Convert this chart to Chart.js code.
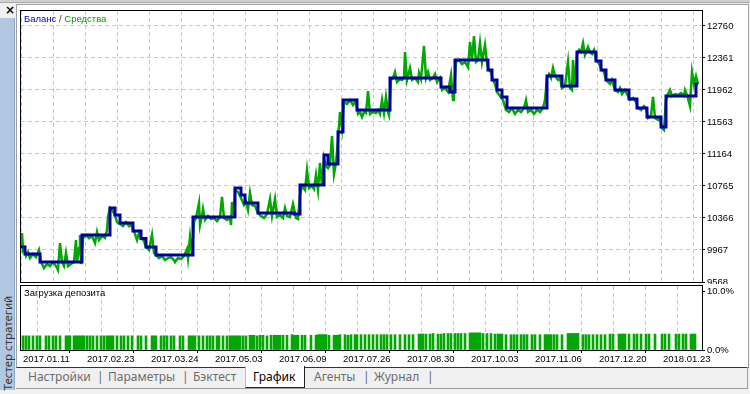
<!DOCTYPE html>
<html>
<head>
<meta charset="utf-8">
<script src="https://cdn.jsdelivr.net/npm/chart.js@4.4.0/dist/chart.umd.min.js"></script>
<style>
html, body { margin: 0; padding: 0; }
body { width: 750px; height: 394px; background: #f0f0f0; position: relative; overflow: hidden; font-family: 'Liberation Sans', Arial, sans-serif; }
#topbar { position: absolute; left: 0; top: 0; width: 750px; height: 2px; background: #d0d0d0; border-bottom: 1px solid #a8a8a8; }
#close { position: absolute; left: 5px; top: 3px; font: bold 12px 'DejaVu Sans', sans-serif; color: #000; }
#side { position: absolute; left: 0; top: 18px; width: 14px; height: 372px; background: #b1c7e2; border-right: 1px solid #8fa9c8; }
#sideText { position: absolute; left: -39px; top: 337px; width: 92px; height: 15px; line-height: 15px; text-align: center; transform: rotate(-90deg); font: 11.5px 'Noto Sans', sans-serif; color: #333; white-space: nowrap; }
#panel { position: absolute; left: 16px; top: 4px; width: 731px; height: 362px; background: #fff; border: 1px solid #a0a0a0; border-bottom-color: #333; }
#tabs { position: absolute; left: 16px; top: 367px; width: 731px; height: 21px; border-right: 1px solid #a0a0a0; border-bottom: 1px solid #a0a0a0; }
.tab { position: absolute; top: 368px; font: 12px 'Noto Sans', sans-serif; color: #6d6d6d; line-height: 18px; white-space: nowrap; }
#activeTab { position: absolute; left: 245px; top: 366px; width: 58px; height: 21px; background: #fff; border-left: 1px solid #c0c0c0; border-right: 1px solid #222; border-bottom: 1px solid #222; }
canvas { position: absolute; }
#balanceChart { left: 20px; top: 10px; }
#loadChart { left: 20px; top: 284px; }
.cap { position: absolute; font: 9.5px 'Liberation Sans', Arial, sans-serif; white-space: nowrap; }
</style>
</head>
<body>
<div id="topbar"></div>
<div id="close">×</div>
<div id="side"></div>
<div id="sideText">Тестер стратегий</div>
<div id="panel"></div>
<div id="tabs"></div>
<div id="activeTab"></div>
<div class="tab" style="left:28px">Настройки</div>
<div class="tab" style="left:97px">|</div>
<div class="tab" style="left:108px">Параметры</div>
<div class="tab" style="left:182px">|</div>
<div class="tab" style="left:193px">Бэктест</div>
<div class="tab" style="left:253px;color:#000">График</div>
<div class="tab" style="left:314px">Агенты</div>
<div class="tab" style="left:363px">|</div>
<div class="tab" style="left:374px">Журнал</div>
<div class="tab" style="left:427px">|</div>

<canvas id="balanceChart" width="730" height="274"></canvas>
<canvas id="loadChart" width="730" height="80"></canvas>

<div class="cap" style="left:24px;top:13px"><span style="color:#0000c0">Баланс</span> <span style="color:#502020">/</span> <span style="color:#00a000">Средства</span></div>
<div class="cap" style="left:24px;top:287px;color:#000">Загрузка депозита</div>

<script>
// баланс: [номер сделки, значение], ступеньками
const balancePoints = [
    [0, 10004], [4, 9917], [19, 9817], [61, 10154], [89, 10490], [94, 10403], [99, 10304],
    [112, 10204], [120, 10110], [125, 10004], [135, 9904], [172, 10378], [214, 10740],
    [220, 10653], [224, 10553], [237, 10428], [273, 10416], [279, 10777], [303, 11151],
    [307, 11039], [317, 11438], [322, 11837], [336, 11713], [369, 12112], [420, 11999],
    [429, 11937], [434, 12336], [467, 12211], [471, 12087], [476, 11962], [481, 11875],
    [486, 11737], [526, 12137], [541, 12012], [556, 12436], [575, 12324], [580, 12211],
    [585, 12087], [594, 11962], [608, 11850], [616, 11737], [626, 11625], [640, 11501],
    [645, 11887], [675, 12037], [677, 12037]
];

// средства
const equityPoints = [
    [0, 10004], [1, 10179], [2, 9967], [3, 9992], [5, 9892], [7, 9942], [9, 9867], [12, 9917],
    [15, 9879], [18, 9967], [20, 9817], [23, 9742], [26, 9792], [29, 9767], [32, 9817], [35, 9767],
    [37, 9717], [39, 10054], [41, 9817], [43, 9767], [45, 9929], [47, 9767], [50, 9792], [53, 9817],
    [55, 10091], [56, 9817], [58, 9992], [59, 10154], [60, 9792], [62, 10116], [65, 10154], [68, 10116],
    [71, 10141], [74, 10054], [76, 10191], [78, 10091], [81, 10141], [84, 10116], [86, 10216], [87, 10378],
    [89, 10490], [91, 10466], [94, 10403], [96, 10316], [99, 10291], [102, 10266], [105, 10316], [108, 10266],
    [110, 10291], [113, 10204], [116, 10091], [118, 10179], [120, 10116], [123, 10079], [125, 10004], [128, 9967],
    [131, 10154], [133, 9929], [135, 9904], [138, 9867], [141, 9892], [144, 9842], [147, 9867], [150, 9879],
    [153, 9842], [154, 9817], [157, 9867], [160, 9854], [163, 9892], [166, 9979], [167, 9867], [169, 10129],
    [171, 9904], [173, 10316], [175, 10366], [178, 10553], [179, 10279], [181, 10391], [182, 10478], [184, 10341],
    [187, 10391], [190, 10353], [193, 10366], [196, 10328], [199, 10378], [201, 10628], [203, 10366], [206, 10341],
    [209, 10366], [210, 10279], [211, 10565], [213, 10403], [214, 10715], [217, 10690], [220, 10615], [223, 10528],
    [225, 10565], [227, 10466], [229, 10678], [231, 10528], [234, 10515], [237, 10428], [240, 10391], [243, 10366],
    [246, 10416], [249, 10603], [251, 10391], [254, 10603], [256, 10378], [259, 10403], [262, 10366], [264, 10490],
    [266, 10391], [269, 10378], [272, 10540], [275, 10366], [277, 10353], [279, 10653], [281, 10765], [284, 10715],
    [286, 10964], [288, 10740], [291, 10765], [293, 10727], [295, 10902], [297, 10715], [299, 11052], [301, 10765],
    [303, 11114], [305, 11014], [307, 10989], [309, 11027], [311, 11388], [313, 10914], [315, 11052], [317, 11338],
    [319, 11688], [321, 11488], [323, 11812], [326, 11787], [329, 11837], [332, 11775], [335, 11825], [337, 11663],
    [339, 11688], [341, 11625], [343, 11688], [345, 11675], [347, 11949], [349, 11663], [352, 11688], [355, 11675],
    [357, 11713], [359, 11663], [361, 11837], [363, 11675], [365, 11875], [367, 11688], [368, 11650], [370, 12087],
    [372, 12112], [374, 12186], [376, 12062], [379, 12099], [381, 12087], [383, 12112], [384, 12436], [386, 12087],
    [389, 12236], [391, 12087], [394, 12112], [397, 12062], [398, 12174], [400, 12099], [403, 12511], [405, 12112],
    [407, 12186], [409, 12087], [412, 12112], [414, 12161], [416, 12062], [419, 12112], [421, 11962], [424, 11987],
    [427, 11937], [430, 12149], [432, 11837], [433, 11937], [435, 12311], [438, 12336], [441, 12286], [444, 12311],
    [447, 12249], [449, 12560], [451, 12336], [453, 12635], [455, 12311], [457, 12336], [459, 12548], [461, 12311],
    [464, 12523], [466, 12299], [468, 12211], [470, 12186], [472, 12087], [474, 12037], [476, 11937], [479, 11887],
    [482, 11837], [485, 11713], [488, 11688], [491, 11737], [494, 11663], [497, 11713], [500, 11688], [503, 11737],
    [505, 11837], [507, 11688], [510, 11713], [513, 11663], [516, 11713], [519, 11688], [522, 11737], [524, 11837],
    [526, 12112], [528, 12161], [530, 12112], [532, 12236], [534, 12136], [537, 12087], [539, 12112], [541, 11987],
    [544, 12012], [547, 12311], [549, 11987], [551, 11962], [552, 12336], [554, 12012], [556, 12411], [558, 12461],
    [560, 12436], [562, 12548], [564, 12398], [567, 12498], [569, 12436], [571, 12411], [573, 12461], [575, 12336],
    [577, 12311], [579, 12261], [581, 12211], [583, 12186], [585, 12087], [587, 12062], [589, 12037], [591, 12087],
    [594, 11962], [597, 11937], [599, 11987], [601, 11912], [604, 11962], [607, 11887], [609, 11837], [612, 11862],
    [615, 11812], [617, 11737], [620, 11713], [623, 11762], [625, 11737], [627, 11613], [630, 11638], [632, 11875],
    [634, 11613], [637, 11588], [639, 11613], [641, 11488], [643, 11463], [645, 11837], [647, 11912], [649, 11962],
    [651, 11887], [654, 11912], [657, 11900], [660, 11924], [663, 11887], [664, 11962], [666, 11900], [669, 11762],
    [671, 12186], [673, 12037], [675, 12136], [677, 12037]
];

// загрузка депозита, %
const loadDeals = [
    2, 5, 8, 12, 16, 19, 25, 28, 32, 35, 39, 45, 47, 49, 53, 55, 57, 59, 61, 63,
    66, 69, 72, 76, 80, 83, 86, 88, 90, 92, 96, 100, 103, 107, 111, 117, 120, 125, 131, 133,
    135, 140, 143, 146, 150, 153, 159, 162, 168, 170, 172, 174, 178, 182, 186, 189, 192, 196, 198, 202,
    206, 209, 211, 213, 215, 217, 219, 222, 225, 229, 231, 233, 236, 239, 242, 246, 250, 253, 255, 257,
    259, 262, 266, 271, 273, 275, 277, 281, 284, 290, 295, 297, 299, 301, 303, 305, 308, 313, 315, 317,
    319, 324, 327, 330, 334, 336, 340, 344, 348, 352, 356, 360, 363, 366, 370, 374, 379, 384, 388, 392,
    398, 400, 402, 405, 409, 412, 417, 420, 423, 427, 430, 434, 437, 440, 444, 449, 451, 453, 455, 457,
    459, 462, 466, 470, 474, 477, 479, 481, 485, 490, 493, 496, 500, 503, 506, 511, 514, 519, 524, 526,
    528, 530, 533, 536, 541, 547, 549, 551, 553, 555, 557, 562, 565, 568, 572, 576, 580, 584, 589, 592,
    598, 600, 602, 604, 608, 613, 616, 620, 625, 628, 634, 641, 644, 648, 655, 658, 662, 665, 670, 672, 674
];
const loadPercent = [
    2.4, 2.4, 2.4, 2.4, 2.4, 2.4, 2.4, 2.4, 2.4, 2.4, 2.4, 2.4, 2.4, 2.4, 2.4, 2.4, 2.4, 2.4, 2.4, 2.4,
    2.4, 2.4, 2.4, 2.4, 2.4, 2.4, 2.4, 2.4, 2.4, 2.4, 2.4, 2.4, 2.4, 2.4, 2.4, 2.4, 2.4, 2.4, 2.4, 2.4,
    2.4, 2.4, 2.4, 2.4, 2.4, 2.4, 2.4, 2.4, 2.4, 2.4, 2.4, 2.4, 2.4, 2.4, 2.4, 2.4, 2.4, 2.4, 2.4, 2.4,
    2.4, 2.4, 2.4, 2.4, 2.4, 2.4, 2.4, 2.4, 2.4, 2.5, 2.5, 2.5, 2.4, 2.5, 2.5, 2.4, 2.5, 2.5, 2.5, 2.5,
    2.5, 2.5, 2.5, 2.6, 2.5, 2.5, 2.5, 2.5, 2.5, 2.5, 2.5, 2.6, 2.6, 2.6, 2.6, 2.6, 2.5, 2.5, 2.5, 2.5,
    2.6, 2.6, 2.5, 2.6, 2.6, 2.6, 2.6, 2.6, 2.6, 2.6, 2.6, 2.6, 2.6, 2.6, 2.6, 2.6, 2.6, 2.6, 2.6, 2.6,
    2.7, 2.7, 2.7, 2.7, 2.7, 2.8, 2.7, 2.7, 2.8, 2.8, 2.8, 2.8, 2.8, 2.8, 2.8, 2.9, 2.9, 2.9, 2.9, 2.9,
    2.9, 2.8, 2.8, 2.8, 2.7, 2.7, 2.7, 2.7, 2.6, 2.6, 2.6, 2.6, 2.6, 2.6, 2.6, 2.6, 2.6, 2.6, 2.6, 2.6,
    2.6, 2.6, 2.6, 2.6, 2.6, 2.8, 2.8, 2.8, 2.8, 2.8, 2.8, 2.6, 2.6, 2.6, 2.6, 2.6, 2.6, 2.6, 2.7, 2.7,
    2.7, 2.7, 2.7, 2.7, 2.7, 2.7, 2.7, 2.7, 2.7, 2.7, 2.7, 2.7, 2.7, 2.7, 2.7, 2.7, 2.7, 2.7, 2.7, 2.7, 2.7
];

const balanceTicks = [9568, 9967, 10366, 10765, 11164, 11563, 11962, 12361, 12760];
const loadTicks = [0, 10];
const dateLabels = ['2017.01.11', '2017.02.23', '2017.03.24', '2017.05.03', '2017.06.09', '2017.07.26',
    '2017.08.30', '2017.10.03', '2017.11.06', '2017.12.20', '2018.01.23'];

const GRID = '#c8c8c8';
const TICK_FONT = { family: 'Liberation Sans', size: 9.5 };

// сетка по сделкам: линия каждые 32, подпись каждые 64
const dealTicks = [];
for (let d = 0; d <= 672; d += 32) dealTicks.push(d);

function dateForDeal(v) {
    if (v % 64 !== 0) return '';
    return dateLabels[v / 64] || '';
}

// не даём подписям сдвигать область графика
function fixScale(s, size) {
    if (s.isHorizontal()) s.height = size; else s.width = size;
    s.paddingTop = 0;
    s.paddingBottom = 0;
    s.paddingLeft = 0;
    s.paddingRight = 0;
}

const framePlugin = {
    id: 'frame',
    afterDraw(chart) {
        const { ctx, chartArea: a } = chart;
        ctx.save();
        ctx.strokeStyle = '#000';
        ctx.lineWidth = 1;
        ctx.strokeRect(a.left - 0.5, a.top - 0.5, a.right - a.left + 1, a.bottom - a.top + 1);
        ctx.restore();
    }
};

function initializeBalanceChart() {
    const ctx = document.getElementById('balanceChart').getContext('2d');
    new Chart(ctx, {
        type: 'line',
        data: {
            datasets: [{
                label: 'Баланс',
                data: balancePoints.map(p => ({ x: p[0], y: p[1] })),
                stepped: true,
                borderColor: '#0000a0',
                borderWidth: 3,
                pointRadius: 0
            }, {
                label: 'Средства',
                data: equityPoints.map(p => ({ x: p[0], y: p[1] })),
                borderColor: '#00a800',
                borderWidth: 2.5,
                pointRadius: 0,
                tension: 0
            }]
        },
        options: {
            responsive: false,
            animation: false,
            events: [],
            layout: { autoPadding: false, padding: { left: 1, top: 1, right: 0, bottom: 2 } },
            plugins: { legend: { display: false }, tooltip: { enabled: false } },
            scales: {
                x: {
                    type: 'linear', min: 0, max: 681,
                    afterBuildTicks: s => { s.ticks = dealTicks.map(v => ({ value: v })); },
                    afterFit: s => fixScale(s, 0),
                    ticks: { display: false },
                    grid: { color: GRID, drawTicks: false },
                    border: { display: false, dash: [4, 3] }
                },
                y: {
                    position: 'right', min: 9568, max: 12947,
                    afterBuildTicks: s => { s.ticks = balanceTicks.map(v => ({ value: v })); },
                    afterFit: s => fixScale(s, 48),
                    ticks: { color: '#000', font: TICK_FONT, padding: 2, callback: v => String(v) },
                    grid: { color: GRID, tickLength: 3, tickColor: '#000', tickBorderDash: [] },
                    border: { display: false, dash: [4, 3] }
                }
            }
        },
        plugins: [framePlugin]
    });
}

function initializeLoadChart() {
    const ctx = document.getElementById('loadChart').getContext('2d');
    new Chart(ctx, {
        type: 'bar',
        data: {
            datasets: [{
                label: 'Загрузка депозита',
                data: loadDeals.map((d, i) => ({ x: d, y: loadPercent[i] })),
                backgroundColor: '#00a800',
                barThickness: 2,
                borderWidth: 0
            }]
        },
        options: {
            responsive: false,
            animation: false,
            events: [],
            layout: { autoPadding: false, padding: { left: 1, top: 2, right: 0, bottom: 0 } },
            plugins: { legend: { display: false }, tooltip: { enabled: false } },
            scales: {
                x: {
                    type: 'linear', min: 0, max: 681, offset: false,
                    afterBuildTicks: s => { s.ticks = dealTicks.map(v => ({ value: v })); },
                    afterFit: s => fixScale(s, 14),
                    ticks: {
                        color: '#000', font: TICK_FONT, align: 'start', labelOffset: 2, padding: 1,
                        autoSkip: false, maxRotation: 0, callback: v => dateForDeal(v)
                    },
                    grid: {
                        color: GRID, tickLength: 3, tickBorderDash: [],
                        tickColor: c => (c.tick && c.tick.value % 64 === 0) ? '#000' : 'rgba(0,0,0,0)'
                    },
                    border: { display: false, dash: [4, 3] }
                },
                y: {
                    position: 'right', min: 0, max: 10.85,
                    afterBuildTicks: s => { s.ticks = loadTicks.map(v => ({ value: v })); },
                    afterFit: s => fixScale(s, 48),
                    ticks: { color: '#000', font: TICK_FONT, padding: 2, callback: v => v.toFixed(1) + '%' },
                    grid: { drawOnChartArea: false, tickLength: 3, tickColor: '#000' },
                    border: { display: false }
                }
            }
        },
        plugins: [framePlugin]
    });
}

initializeBalanceChart();
initializeLoadChart();
</script>
</body>
</html>
